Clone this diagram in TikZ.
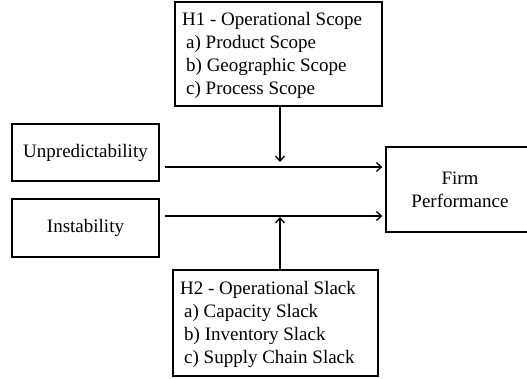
\documentclass[tikz,border=0pt]{standalone}
\usepackage{fontspec}
\setmainfont{Liberation Serif}
\usetikzlibrary{arrows.meta}
\begin{document}
\begin{tikzpicture}[x=1pt,y=-1pt,
  box/.style={draw=black, line width=1.3pt, inner sep=0pt, font=\fontsize{19}{22.6}\selectfont},
  frame/.style={draw=black, line width=1.3pt, inner sep=0pt},
  txt/.style={inner sep=0pt, font=\fontsize{19}{23}\selectfont},
  link/.style={line width=1.3pt, -{Straight Barb[length=5pt,width=9pt,line width=1.3pt]}}]
\useasboundingbox (0,0) rectangle (527,378);
\begin{scope}
\clip (0,0) rectangle (527,378);
\node[frame, minimum width=207pt, minimum height=104pt] (h1) at (278.5,54) {};
\node[txt, align=left, anchor=north west] (h1t) at (182,12)
  {H1 - Operational Scope\\\hspace*{4pt}a) Product Scope\\\hspace*{4pt}b) Geographic Scope\\\hspace*{4pt}c) Process Scope};
\node[frame, minimum width=205pt, minimum height=106pt] (h2) at (275.5,323) {};
\node[txt, align=left, anchor=north west] (h2t) at (180,281)
  {H2 - Operational Slack\\\hspace*{4pt}a) Capacity Slack\\\hspace*{4pt}b) Inventory Slack\\\hspace*{4pt}c) Supply Chain Slack};
\node[box, minimum width=147pt, minimum height=57pt] (unp) at (85.5,152.5) {Unpredictability};
\node[box, minimum width=147pt, minimum height=58pt] (ins) at (85.5,228) {Instability};
\node[frame, minimum width=170pt, minimum height=85pt] (firm) at (471,189.5) {};
\node[txt, align=center] (firmt) at (460,190) {Firm\\Performance};
\coordinate (j1) at (280,167);
\coordinate (j2) at (280,216);
\draw[link, shorten <=5pt, shorten >=3pt] (unp.east |- j1) -- (firm.west |- j1);
\draw[link, shorten <=5pt, shorten >=3pt] (ins.east |- j2) -- (firm.west |- j2);
\draw[link, shorten >=5pt] (h1.south -| j1) -- (j1);
\draw[link, shorten >=1pt] (h2.north -| j2) -- (j2);
\end{scope}
\end{tikzpicture}
\end{document}
